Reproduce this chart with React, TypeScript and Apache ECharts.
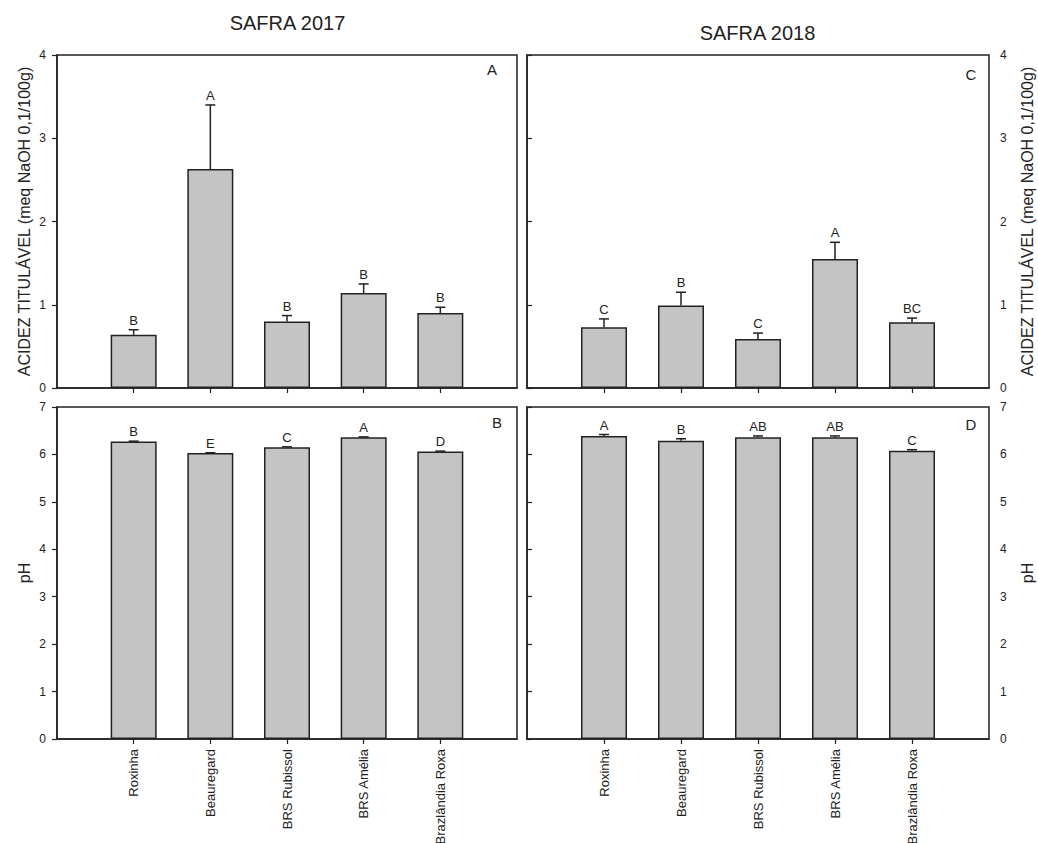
import React, { useEffect, useRef } from "react";
import * as echarts from "echarts";

const categories = ["Roxinha", "Beauregard", "BRS Rubissol", "BRS Amélia", "Brazlândia Roxa"];
const positions = [1, 2, 3, 4, 5];

const acid2017 = [0.64, 2.63, 0.8, 1.14, 0.9];
const acid2017Err = [0.06, 0.77, 0.07, 0.11, 0.07];
const acid2017Letters = ["B", "A", "B", "B", "B"];

const acid2018 = [0.73, 0.99, 0.59, 1.55, 0.79];
const acid2018Err = [0.1, 0.16, 0.07, 0.2, 0.05];
const acid2018Letters = ["C", "B", "C", "A", "BC"];

const ph2017 = [6.27, 6.03, 6.15, 6.36, 6.06];
const ph2017Err = [0.01, 0.005, 0.01, 0.01, 0.01];
const ph2017Letters = ["B", "E", "C", "A", "D"];

const ph2018 = [6.39, 6.29, 6.36, 6.36, 6.08];
const ph2018Err = [0.03, 0.04, 0.03, 0.03, 0.02];
const ph2018Letters = ["A", "B", "AB", "AB", "C"];

const seasonTitles = ["SAFRA 2017", "SAFRA 2018"];
const panelLetters = ["A", "C", "B", "D"];
const acidName = "ACIDEZ TITULÁVEL (meq NaOH 0,1/100g)";
const phName = "pH";

const FONT = "'Liberation Sans', Arial, sans-serif";
const INK = "#222";

export default function App() {
  const ref = useRef<HTMLDivElement>(null);

  useEffect(() => {
    if (!ref.current) return;
    const chart = echarts.init(ref.current, null, { renderer: "svg" });

    const grids = [
      { left: 57, top: 55, width: 460, height: 333 },
      { left: 527, top: 55, width: 462, height: 333 },
      { left: 57, top: 407, width: 460, height: 332 },
      { left: 527, top: 407, width: 462, height: 332 },
    ];

    const panels = [
      { vals: acid2017, err: acid2017Err, letters: acid2017Letters, max: 4, side: "left", name: acidName, bottom: false },
      { vals: acid2018, err: acid2018Err, letters: acid2018Letters, max: 4, side: "right", name: acidName, bottom: false },
      { vals: ph2017, err: ph2017Err, letters: ph2017Letters, max: 7, side: "left", name: phName, bottom: true },
      { vals: ph2018, err: ph2018Err, letters: ph2018Letters, max: 7, side: "right", name: phName, bottom: true },
    ];

    const xAxes = panels.map((p, i) => ({
      type: "value",
      gridIndex: i,
      min: 0,
      max: 6,
      interval: 1,
      axisLine: { show: true, lineStyle: { color: INK, width: 1.5 } },
      axisTick: { show: true, length: 5, customValues: positions, lineStyle: { color: INK, width: 1.2 } },
      axisLabel: {
        show: p.bottom,
        customValues: positions,
        rotate: 90,
        margin: 10,
        fontSize: 13,
        fontFamily: FONT,
        color: INK,
        formatter: (v: number) => categories[Math.round(v) - 1] ?? "",
      },
      splitLine: { show: false },
    }));

    const yAxes = panels.map((p, i) => ({
      type: "value",
      gridIndex: i,
      position: p.side,
      min: 0,
      max: p.max,
      interval: 1,
      name: p.name,
      nameLocation: "middle",
      nameRotate: 90,
      nameGap: p.side === "left" ? 25 : 30,
      nameTextStyle: { fontSize: 16, fontFamily: FONT, color: INK },
      axisLine: { show: true, lineStyle: { color: INK, width: 1.5 } },
      axisTick: { show: true, length: 5, lineStyle: { color: INK, width: 1.2 } },
      axisLabel: { fontSize: 12, fontFamily: FONT, color: INK, margin: 11 },
      splitLine: { show: false },
    }));

    const series: any[] = [];
    panels.forEach((p, i) => {
      series.push({
        type: "bar",
        xAxisIndex: i,
        yAxisIndex: i,
        barWidth: 46,
        data: p.vals.map((v, k) => [positions[k], v]),
        itemStyle: { color: "#c4c4c4", borderColor: INK, borderWidth: 1.5 },
        z: 2,
      });
      series.push({
        type: "custom",
        xAxisIndex: i,
        yAxisIndex: i,
        z: 5,
        encode: { x: 0, y: 1 },
        data: p.vals.map((v, k) => [positions[k], v, p.err[k]]),
        renderItem: (params: any, api: any) => {
          const x = api.value(0);
          const v = api.value(1);
          const e = api.value(2);
          const p0 = api.coord([x, v]);
          const p1 = api.coord([x, v + e]);
          const hw = 5;
          return {
            type: "group",
            children: [
              { type: "line", shape: { x1: p0[0], y1: p0[1], x2: p1[0], y2: p1[1] }, style: { stroke: INK, lineWidth: 1.5 } },
              { type: "line", shape: { x1: p1[0] - hw, y1: p1[1], x2: p1[0] + hw, y2: p1[1] }, style: { stroke: INK, lineWidth: 1.5 } },
              {
                type: "text",
                x: p1[0],
                y: p1[1] - 3,
                style: {
                  text: p.letters[params.dataIndex],
                  textAlign: "center",
                  textVerticalAlign: "bottom",
                  fontSize: 13,
                  fontFamily: FONT,
                  fill: INK,
                },
              },
            ],
          };
        },
      });
    });

    const letterPos = [
      [492, 69],
      [971, 74],
      [497, 422],
      [971, 424],
    ];

    const graphic: any[] = [
      { type: "text", x: 287.5, y: 23, style: { text: seasonTitles[0], fontSize: 20, fontFamily: FONT, fill: INK, textAlign: "center", textVerticalAlign: "middle" } },
      { type: "text", x: 757.5, y: 33, style: { text: seasonTitles[1], fontSize: 20, fontFamily: FONT, fill: INK, textAlign: "center", textVerticalAlign: "middle" } },
      ...panelLetters.map((t, i) => ({
        type: "text",
        x: letterPos[i][0],
        y: letterPos[i][1],
        style: { text: t, fontSize: 15, fontFamily: FONT, fill: INK, textAlign: "center", textVerticalAlign: "middle" },
      })),
    ];

    chart.setOption({
      animation: false,
      backgroundColor: "#fff",
      grid: grids.map((g) => ({
        ...g,
        show: true,
        borderColor: INK,
        borderWidth: 1.5,
        backgroundColor: "transparent",
        containLabel: false,
        outerBoundsMode: "none",
      })),
      xAxis: xAxes,
      yAxis: yAxes,
      series,
      graphic,
    });

    return () => chart.dispose();
  }, []);

  return <div ref={ref} style={{ position: "fixed", left: 0, top: 0, width: 1038, height: 843 }} />;
}
